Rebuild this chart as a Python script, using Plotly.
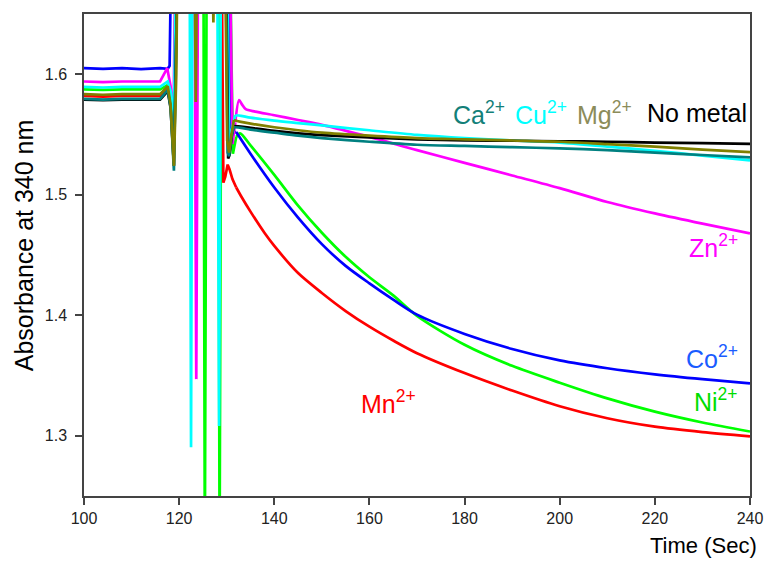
import plotly.graph_objects as go

# Absorbance at 340 nm vs time for each metal ion (values above 1.65 / below 1.25 are off-scale mixing artefacts)
t_co = [100, 104, 108, 112, 116, 117.6, 118.0, 118.4, 130.4, 130.9, 131.4, 132, 135, 140, 145, 150, 155, 160, 165, 170, 180, 190, 200, 210, 220, 230, 240]
a_co = [1.605, 1.6045, 1.605, 1.6042, 1.605, 1.6045, 1.607, 1.72, 1.72, 1.545, 1.552, 1.552, 1.534, 1.506, 1.481, 1.459, 1.441, 1.4265, 1.413, 1.4005, 1.3845, 1.372, 1.3625, 1.356, 1.351, 1.347, 1.3435]

t_mn = [100, 104, 108, 112, 116, 117.6, 118.3, 118.9, 119.4, 128.9, 129.3, 129.7, 130.2, 130.6, 131.2, 132, 133, 135, 138, 140, 145, 150, 155, 160, 165, 170, 180, 190, 200, 210, 220, 230, 240]
a_mn = [1.582, 1.5815, 1.582, 1.5818, 1.582, 1.587, 1.575, 1.545, 1.72, 1.72, 1.510, 1.515, 1.525, 1.521, 1.513, 1.506, 1.499, 1.486, 1.468, 1.4575, 1.435, 1.4185, 1.4035, 1.3905, 1.379, 1.3685, 1.352, 1.3375, 1.3245, 1.3145, 1.3075, 1.303, 1.2995]

t_ni = [100, 104, 108, 112, 116, 117.6, 118.3, 118.9, 119.4, 125.1, 125.4, 125.8, 128.2, 128.5, 128.9, 130.6, 131.3, 132.0, 132.8, 135, 140, 145, 150, 155, 160, 165, 170, 180, 190, 200, 210, 220, 230, 240]
a_ni = [1.5875, 1.587, 1.5875, 1.5872, 1.5875, 1.591, 1.58, 1.55, 1.72, 1.72, 1.20, 1.72, 1.72, 1.20, 1.72, 1.72, 1.534, 1.548, 1.551, 1.541, 1.5165, 1.491, 1.4685, 1.4485, 1.4315, 1.4165, 1.3995, 1.3755, 1.358, 1.344, 1.331, 1.320, 1.311, 1.3035]

t_zn = [100, 104, 108, 112, 116, 117.5, 118.2, 118.8, 119.3, 123.2, 123.6, 124.0, 130.6, 131.2, 131.8, 132.6, 133.2, 134, 136, 140, 145, 150, 160, 170, 180, 190, 200, 210, 220, 230, 240]
a_zn = [1.594, 1.5935, 1.594, 1.5938, 1.594, 1.605, 1.59, 1.56, 1.72, 1.72, 1.347, 1.72, 1.72, 1.542, 1.56, 1.5786, 1.575, 1.571, 1.569, 1.566, 1.562, 1.558, 1.548, 1.537, 1.5265, 1.516, 1.5055, 1.494, 1.4845, 1.476, 1.468]

t_cu = [100, 104, 108, 112, 116, 117.6, 118.3, 118.9, 119.4, 122.2, 122.5, 122.8, 128.0, 128.4, 128.8, 130.0, 130.5, 131.2, 131.8, 133, 135, 140, 145, 150, 160, 170, 180, 190, 200, 210, 220, 230, 240]
a_cu = [1.5895, 1.589, 1.5895, 1.5892, 1.5895, 1.594, 1.585, 1.555, 1.72, 1.72, 1.2905, 1.72, 1.72, 1.308, 1.72, 1.72, 1.545, 1.556, 1.566, 1.5655, 1.564, 1.5615, 1.5595, 1.5575, 1.5535, 1.5497, 1.547, 1.545, 1.5433, 1.540, 1.5365, 1.5325, 1.5285]

t_none = [100, 104, 108, 112, 116, 117.6, 118.2, 118.9, 119.5, 119.8, 129.8, 130.3, 130.6, 131.1, 131.5, 133, 135, 140, 145, 150, 160, 170, 180, 190, 200, 210, 220, 230, 240]
a_none = [1.579, 1.5785, 1.579, 1.5788, 1.579, 1.586, 1.572, 1.524, 1.62, 1.72, 1.72, 1.530, 1.533, 1.55, 1.557, 1.5565, 1.5555, 1.553, 1.551, 1.5495, 1.5475, 1.546, 1.5452, 1.5448, 1.5444, 1.544, 1.5433, 1.5428, 1.5422]

t_ca = [100, 104, 108, 112, 116, 117.6, 118.2, 118.9, 119.5, 119.8, 129.7, 130.2, 130.5, 131.0, 131.5, 133, 135, 140, 145, 150, 160, 170, 180, 190, 200, 210, 220, 230, 240]
a_ca = [1.5795, 1.579, 1.5795, 1.5792, 1.5795, 1.587, 1.573, 1.520, 1.62, 1.72, 1.72, 1.535, 1.532, 1.548, 1.556, 1.5555, 1.554, 1.5515, 1.549, 1.547, 1.544, 1.5415, 1.5405, 1.5395, 1.5385, 1.537, 1.535, 1.533, 1.531]

t_mg = [100, 104, 108, 112, 116, 117.6, 118.2, 118.9, 119.4, 119.7, 123.2, 123.5, 123.8, 126.9, 127.2, 127.5, 129.6, 130.1, 130.5, 131.0, 131.5, 133, 135, 140, 145, 150, 160, 170, 180, 190, 200, 210, 220, 230, 240]
a_mg = [1.5835, 1.583, 1.5835, 1.5832, 1.5835, 1.590, 1.575, 1.524, 1.60, 1.72, 1.72, 1.577, 1.72, 1.72, 1.643, 1.72, 1.72, 1.545, 1.535, 1.55, 1.562, 1.5605, 1.559, 1.556, 1.5535, 1.5515, 1.549, 1.547, 1.546, 1.545, 1.544, 1.542, 1.540, 1.5375, 1.5353]

x_ticks = [100, 120, 140, 160, 180, 200, 220, 240]
y_ticks = [1.3, 1.4, 1.5, 1.6]
y_ticktext = ["1.3", "1.4", "1.5", "1.6"]

FONT = "Liberation Sans, Arial, sans-serif"
SMOOTH_FROM = 131.5   # the decay part after mixing is drawn as a smooth curve

series = [
    ("Ni", t_ni, a_ni, "#00ff00"),
    ("Mn", t_mn, a_mn, "#ff0000"),
    ("Co", t_co, a_co, "#0000ff"),
    ("Zn", t_zn, a_zn, "#ff00ff"),
    ("Cu", t_cu, a_cu, "#00ffff"),
    ("No metal", t_none, a_none, "#000000"),
    ("Ca", t_ca, a_ca, "#008080"),
    ("Mg", t_mg, a_mg, "#808000"),
]

fig = go.Figure()
for name, tt, aa, col in series:
    k = next(i for i, t in enumerate(tt) if t >= SMOOTH_FROM)
    # baseline + mixing spikes: straight segments
    fig.add_trace(go.Scatter(x=tt[:k + 1], y=aa[:k + 1], mode="lines", name=name,
                             line=dict(color=col, width=2.7), showlegend=False))
    # decay: smoothed
    fig.add_trace(go.Scatter(x=tt[k:], y=aa[k:], mode="lines", name=name,
                             line=dict(color=col, width=2.7, shape="spline", smoothing=0.8),
                             showlegend=False))

# ion labels next to their traces
labels = [
    ("Ca<sup>2+</sup>", 188.9, 1.5675, "right", "#138078"),
    ("Cu<sup>2+</sup>", 201.9, 1.5675, "right", "#00ffff"),
    ("Mg<sup>2+</sup>", 215.6, 1.5675, "right", "#8c8c5a"),
    ("No metal", 239.8, 1.5675, "right", "#000000"),
    ("Zn<sup>2+</sup>", 237.9, 1.4575, "right", "#ff00ff"),
    ("Co<sup>2+</sup>", 238.0, 1.3650, "right", "#1a5cff"),
    ("Ni<sup>2+</sup>", 237.8, 1.3300, "right", "#00dd00"),
    ("Mn<sup>2+</sup>", 164.0, 1.3280, "center", "#ff0000"),
]
for txt, x, y, anchor, col in labels:
    fig.add_annotation(x=x, y=y, xref="x", yref="y", text=txt, showarrow=False,
                       xanchor=anchor, yanchor="middle",
                       font=dict(family=FONT, size=25, color=col))

# axis titles
fig.add_annotation(x=1.013, y=-0.103, xref="paper", yref="paper", text="Time (Sec)",
                   showarrow=False, xanchor="right", yanchor="middle",
                   font=dict(family=FONT, size=22, color="#000000"))
fig.add_annotation(x=-0.0903, y=0.52, xref="paper", yref="paper", text="Absorbance at 340 nm",
                   showarrow=False, textangle=-90, xanchor="center", yanchor="middle",
                   font=dict(family=FONT, size=25, color="#000000"))

axis_common = dict(showgrid=False, zeroline=False, showline=True, linecolor="#444444",
                   linewidth=1.5, mirror=True, ticks="outside", ticklen=7, tickwidth=1.5,
                   tickcolor="#444444", tickfont=dict(family=FONT, size=16, color="#222222"))

fig.update_layout(
    width=775, height=561,
    margin=dict(l=84, r=21, t=12, b=65),
    paper_bgcolor="white", plot_bgcolor="white",
    xaxis=dict(range=[100, 240], tickvals=x_ticks, **axis_common),
    yaxis=dict(range=[1.25, 1.65], tickvals=y_ticks, ticktext=y_ticktext,
               ticklabelstandoff=5, **axis_common),
)

fig.write_html("out.html")
